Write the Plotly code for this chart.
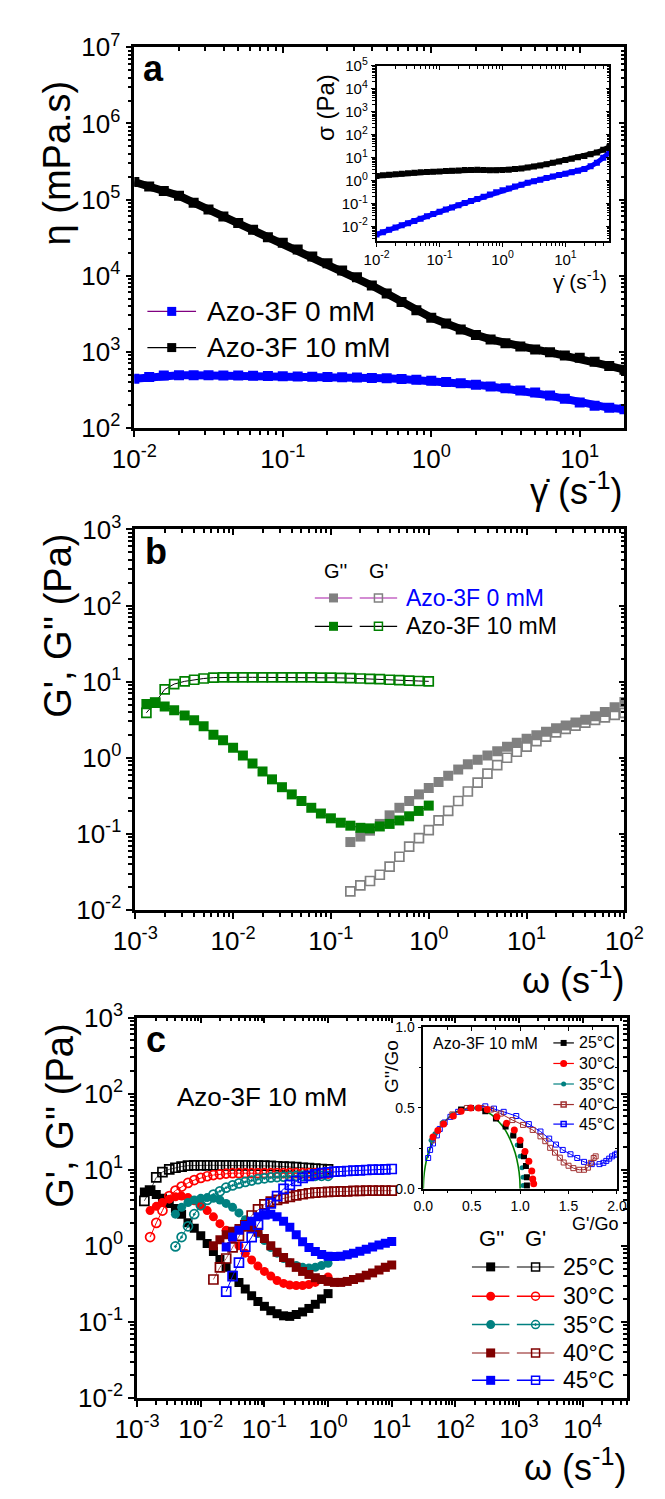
import math
import plotly.graph_objects as go

W, H = 665, 1499
FONT = "Liberation Sans, Arial, Helvetica, sans-serif"

# ---------------- (a) steady-shear viscosity, mPa.s ----------------
shear_rate = [0.01, 0.0126, 0.0158, 0.02, 0.0251, 0.0316, 0.0398, 0.0501, 0.0631, 0.0794,
              0.1, 0.126, 0.158, 0.2, 0.251, 0.316, 0.398, 0.501, 0.631, 0.794,
              1, 1.26, 1.58, 2, 2.51, 3.16, 3.98, 5.01, 6.31, 7.94, 10, 12.6, 15.8, 20]
eta_azo0 = [440, 465, 485, 490, 492, 490, 488, 485, 482, 478,
            475, 472, 470, 466, 462, 457, 452, 446, 438, 428,
            415, 400, 385, 368, 350, 330, 310, 290, 265, 240, 215, 195, 183, 175]
eta_azo10 = [170000, 148000, 129000, 112000, 91000, 74000, 60000, 49000, 40000, 32000,
             27000, 22000, 17800, 14500, 11700, 9500, 7400, 5800, 4500, 3500,
             2800, 2350, 1950, 1660, 1450, 1290, 1170, 1070, 980, 890, 830, 740, 650, 580]

# ---------------- (a) inset: shear stress, Pa ----------------
shear_rate_inset = [0.01, 0.0126, 0.0158, 0.02, 0.0251, 0.0316, 0.0398, 0.0501, 0.0631, 0.0794,
                    0.1, 0.126, 0.158, 0.2, 0.251, 0.316, 0.398, 0.501, 0.631, 0.794,
                    1, 1.26, 1.58, 2, 2.51, 3.16, 3.98, 5.01, 6.31, 7.94,
                    10, 12.6, 15.8, 20, 25.1, 31.6, 39.8, 50.1]
sigma_azo0 = [0.0045, 0.0057, 0.0072, 0.009, 0.0113, 0.014, 0.0175, 0.022, 0.028, 0.035,
              0.044, 0.055, 0.068, 0.085, 0.105, 0.13, 0.16, 0.2, 0.25, 0.31,
              0.38, 0.46, 0.56, 0.67, 0.8, 0.95, 1.1, 1.3, 1.5, 1.75,
              2.0, 2.3, 2.7, 3.2, 4.2, 6, 10, 17]
sigma_azo10 = [1.6, 1.7, 1.8, 1.9, 2.0, 2.1, 2.2, 2.3, 2.4, 2.45,
               2.5, 2.6, 2.7, 2.8, 2.9, 2.9, 2.95, 2.9, 2.85, 2.85,
               2.9, 3.0, 3.2, 3.4, 3.7, 4.1, 4.6, 5.2, 6.0, 6.9,
               7.9, 9.0, 10.5, 12, 14, 17, 22, 30]

# ---------------- (b) dynamic moduli, Pa ----------------
omega_azo0 = [0.158, 0.2, 0.251, 0.316, 0.398, 0.501, 0.631, 0.794, 1, 1.26, 1.58, 2, 2.51, 3.16,
              3.98, 5.01, 6.31, 7.94, 10, 12.6, 15.8, 20, 25.1, 31.6, 39.8, 50.1, 63.1, 79.4, 100]
G2_azo0 = [0.078, 0.092, 0.11, 0.135, 0.175, 0.22, 0.27, 0.33, 0.40, 0.48, 0.58, 0.7, 0.82, 0.94,
           1.07, 1.22, 1.4, 1.58, 1.78, 1.98, 2.2, 2.45, 2.65, 2.9, 3.15, 3.5, 4.0, 4.6, 5.4]
G1_azo0 = [0.0175, 0.021, 0.024, 0.029, 0.037, 0.05, 0.068, 0.088, 0.112, 0.15, 0.2, 0.27, 0.36, 0.47,
           0.62, 0.8, 1.0, 1.2, 1.4, 1.65, 1.9, 2.15, 2.4, 2.65, 2.9, 3.15, 3.4, 3.65, 3.9]

# 10 mM at 25 degC (also the 25 degC series of panel c)
omega_azo10 = [0.0013, 0.0016, 0.002, 0.0025, 0.0032, 0.004, 0.005, 0.0063, 0.0079, 0.01,
               0.0126, 0.0158, 0.02, 0.025, 0.0316, 0.0398, 0.05, 0.063, 0.079, 0.1,
               0.126, 0.158, 0.2, 0.25, 0.316, 0.398, 0.5, 0.63, 0.79, 1.0]
G2_azo10 = [5.1, 5.3, 4.7, 4.2, 3.6, 3.1, 2.6, 2.0, 1.7, 1.35,
            1.07, 0.84, 0.66, 0.52, 0.41, 0.33, 0.27, 0.22, 0.185, 0.16,
            0.14, 0.128, 0.12, 0.118, 0.125, 0.135, 0.15, 0.17, 0.2, 0.235]
G1_azo10 = [3.9, 5.3, 7.9, 9.3, 10.1, 10.6, 11.0, 11.3, 11.4, 11.4,
            11.4, 11.4, 11.4, 11.4, 11.4, 11.4, 11.4, 11.4, 11.3, 11.3,
            11.2, 11.1, 11.0, 10.9, 10.8, 10.6, 10.5, 10.3, 10.2, 10.1]

# ---------------- (c) temperature series, 10 mM ----------------
omega_30 = [0.0016, 0.002, 0.0025, 0.0032, 0.004, 0.005, 0.0063, 0.0079, 0.01, 0.0126,
            0.0158, 0.02, 0.025, 0.0316, 0.0398, 0.05, 0.063, 0.079, 0.1, 0.126,
            0.158, 0.2, 0.25, 0.316, 0.398, 0.5, 0.63, 0.79, 1.0]
G2_30 = [2.9, 3.3, 3.7, 4.1, 4.4, 4.5, 4.3, 3.9, 3.4, 2.9,
         2.4, 1.95, 1.6, 1.25, 1.0, 0.8, 0.65, 0.54, 0.46, 0.4,
         0.35, 0.32, 0.305, 0.3, 0.3, 0.31, 0.33, 0.36, 0.39]
G1_30 = [1.3, 2.0, 2.9, 4.5, 5.3, 6.0, 6.7, 7.3, 7.8, 8.2,
         8.5, 8.7, 8.9, 9.0, 9.0, 9.0, 9.0, 9.0, 9.0, 9.0,
         9.0, 9.0, 9.0, 9.0, 9.0, 9.0, 9.0, 8.9, 8.9]

omega_35 = [0.004, 0.005, 0.0063, 0.0079, 0.01, 0.0126, 0.0158, 0.02, 0.025, 0.0316,
            0.0398, 0.05, 0.063, 0.079, 0.1, 0.126, 0.158, 0.2, 0.25, 0.316,
            0.398, 0.5, 0.63, 0.79, 1.0]
G2_35 = [2.6, 3.2, 3.7, 4.0, 4.2, 4.3, 4.2, 4.0, 3.6, 3.2,
         2.7, 2.2, 1.8, 1.45, 1.17, 0.95, 0.8, 0.68, 0.6, 0.55,
         0.52, 0.51, 0.52, 0.55, 0.59]
G1_35 = [0.98, 1.3, 1.8, 2.6, 3.4, 4.0, 4.7, 5.2, 5.8, 6.2,
         6.6, 6.9, 7.2, 7.5, 7.7, 7.9, 8.0, 8.1, 8.2, 8.3,
         8.3, 8.3, 8.3, 8.3, 8.3]

omega_40 = [0.0158, 0.02, 0.0251, 0.0316, 0.0398, 0.0501, 0.0631, 0.0794, 0.1, 0.126,
            0.158, 0.2, 0.251, 0.316, 0.398, 0.501, 0.631, 0.794, 1, 1.26,
            1.58, 2, 2.51, 3.16, 3.98, 5.01, 6.31, 7.94, 10]
G2_40 = [1.0, 1.2, 1.4, 1.55, 1.68, 1.75, 1.7, 1.5, 1.25, 1.0,
         0.82, 0.7, 0.6, 0.52, 0.46, 0.42, 0.38, 0.36, 0.34, 0.33,
         0.33, 0.34, 0.36, 0.38, 0.41, 0.44, 0.48, 0.52, 0.56]
G1_40 = [0.36, 0.52, 0.68, 0.95, 1.35, 1.85, 2.5, 3.0, 3.5, 3.8,
         4.0, 4.2, 4.4, 4.6, 4.75, 4.9, 5.0, 5.05, 5.1, 5.15,
         5.2, 5.2, 5.25, 5.25, 5.3, 5.3, 5.3, 5.3, 5.3]

omega_45 = [0.0251, 0.0316, 0.0398, 0.0501, 0.0631, 0.0794, 0.1, 0.126, 0.158, 0.2,
            0.251, 0.316, 0.398, 0.501, 0.631, 0.794, 1, 1.26, 1.58, 2,
            2.51, 3.16, 3.98, 5.01, 6.31, 7.94, 10]
G2_45 = [0.96, 1.3, 1.6, 1.85, 2.1, 2.4, 2.55, 2.6, 2.4, 2.1,
         1.75, 1.4, 1.13, 0.95, 0.84, 0.77, 0.73, 0.72, 0.73, 0.76,
         0.8, 0.85, 0.9, 0.96, 1.02, 1.08, 1.14]
G1_45 = [0.25, 0.4, 0.6, 0.97, 1.3, 1.9, 2.6, 3.6, 4.5, 5.6,
         6.3, 7.1, 7.8, 8.3, 8.7, 9.0, 9.2, 9.4, 9.5, 9.6,
         9.7, 9.8, 9.9, 10.0, 10.0, 10.1, 10.2]

# ---------------- (c) inset: Cole-Cole plot ----------------
maxwell_x = [0, 0.005, 0.02, 0.05, 0.1, 0.15, 0.2, 0.3, 0.4, 0.5, 0.6, 0.7, 0.8, 0.85, 0.9, 0.95, 0.98, 0.995, 1.0]
maxwell_y = [0, 0.07, 0.14, 0.22, 0.3, 0.36, 0.4, 0.46, 0.49, 0.5, 0.49, 0.46, 0.4, 0.36, 0.3, 0.22, 0.14, 0.07, 0]
cc25_x = [0.39, 0.49, 0.64, 0.75, 0.85, 0.93, 1.0, 1.04, 1.06, 1.07, 1.07]
cc25_y = [0.49, 0.5, 0.48, 0.435, 0.385, 0.33, 0.27, 0.2, 0.14, 0.07, 0.02]
cc30_x = [0.1, 0.15, 0.21, 0.31, 0.39, 0.49, 0.57, 0.66, 0.76, 0.86, 0.94, 1.0, 1.05, 1.09, 1.12, 1.13, 1.14]
cc30_y = [0.32, 0.36, 0.40, 0.45, 0.48, 0.5, 0.5, 0.49, 0.445, 0.405, 0.364, 0.3, 0.23, 0.17, 0.11, 0.06, 0.03]
cc35_x = [0.08, 0.12, 0.2, 0.3, 0.4, 0.55, 0.65, 0.75, 0.85, 0.92, 0.97, 1.0, 1.02, 1.03, 1.03]
cc35_y = [0.3, 0.34, 0.41, 0.46, 0.49, 0.5, 0.49, 0.45, 0.4, 0.33, 0.27, 0.2, 0.13, 0.07, 0.02]
cc40_x = [0.1, 0.2, 0.3, 0.45, 0.6, 0.7, 0.8, 0.92, 1.03, 1.13, 1.21, 1.26, 1.31, 1.36, 1.41, 1.45,
          1.5, 1.55, 1.61, 1.66, 1.7, 1.73, 1.76, 1.78]
cc40_y = [0.3, 0.4, 0.46, 0.5, 0.5, 0.49, 0.465, 0.425, 0.395, 0.364, 0.324, 0.294, 0.253, 0.223, 0.192, 0.162,
          0.142, 0.127, 0.117, 0.117, 0.13, 0.16, 0.19, 0.2]
cc45_x = [0.05, 0.07, 0.1, 0.14, 0.17, 0.22, 0.28, 0.36, 0.49, 0.64, 0.73, 0.83, 0.96, 1.09, 1.21, 1.3,
          1.37, 1.44, 1.52, 1.59, 1.66, 1.74, 1.82, 1.86, 1.89, 1.92, 1.95, 1.98, 2.0]
cc45_y = [0.19, 0.24, 0.28, 0.33, 0.37, 0.41, 0.445, 0.476, 0.5, 0.51, 0.496, 0.476, 0.45, 0.4, 0.354, 0.31,
          0.273, 0.24, 0.213, 0.19, 0.166, 0.152, 0.152, 0.16, 0.172, 0.186, 0.2, 0.21, 0.217]

temps = ["25°C", "30°C", "35°C", "40°C", "45°C"]

# ---------------- layout geometry (pixels) ----------------
BOX = {
    1: dict(x=(119, 643), y=(30, 419)),     # a
    2: dict(x=(378, 627), y=(49, 228)),     # a inset
    3: dict(x=(120, 643), y=(523, 912)),    # b
    4: dict(x=(122, 646), y=(1022, 1411)),  # c
    5: dict(x=(428, 635), y=(1032, 1197)),  # c inset
}


def fx(px):
    return px / W


def fy(py):
    return 1 - py / H


def log_spec(lo, hi):
    vals, text, minor = [], [], []
    for k in range(math.floor(lo), math.ceil(hi) + 1):
        if lo - 1e-9 <= k <= hi + 1e-9:
            vals.append(10.0 ** k)
            text.append(f"10<sup>{k}</sup>")
        for m in range(2, 10):
            v = m * 10.0 ** k
            if lo < math.log10(v) < hi:
                minor.append(v)
    return dict(type="log", range=[lo, hi], vals=vals, text=text, minor=minor)


def lin_spec(lo, hi, step, mstep):
    n = int(round((hi - lo) / step))
    vals = [lo + i * step for i in range(n + 1)]
    nm = int(round((hi - lo) / mstep))
    minor = [lo + i * mstep for i in range(nm + 1)]
    return dict(type="linear", range=[lo, hi], vals=vals,
                text=[f"{v:.1f}" for v in vals], minor=minor)


MAIN = dict(lw=2.5, tl=6, tw=2, mtl=4, mtw=1.5, fs=26)
INSET = dict(lw=1.5, tl=4, tw=1.3, mtl=3, mtw=1, fs=15)
INSET_C = dict(lw=1.5, tl=4, tw=1.2, mtl=2.5, mtw=1, fs=14)


def axis(spec, st, side, ticks, labels):
    return dict(
        type=spec["type"], range=spec["range"], autorange=False,
        tickmode="array", tickvals=spec["vals"], ticktext=spec["text"],
        ticks=ticks, ticklen=st["tl"], tickwidth=st["tw"], tickcolor="black",
        showline=True, linewidth=st["lw"], linecolor="black", mirror=False,
        showgrid=False, zeroline=False, side=side, showticklabels=labels,
        tickfont=dict(family=FONT, size=st["fs"], color="black"),
        minor=dict(tickmode="array", tickvals=spec["minor"], ticks=ticks,
                   ticklen=st["mtl"], tickwidth=st["mtw"], tickcolor="black", showgrid=False),
        fixedrange=True,
    )


layout_axes = {}
frame_traces = []


def add_frame(n, xspec, yspec, st):
    bx, by = BOX[n]["x"], BOX[n]["y"]
    xn = "x" if n == 1 else f"x{n}"
    yn = "y" if n == 1 else f"y{n}"
    xa = axis(xspec, st, "bottom", "outside", True)
    xa.update(domain=[fx(bx[0]), fx(bx[1])], anchor=yn)
    ya = axis(yspec, st, "left", "outside", True)
    ya.update(domain=[fy(by[1]), fy(by[0])], anchor=xn)
    layout_axes["xaxis" if n == 1 else f"xaxis{n}"] = xa
    layout_axes["yaxis" if n == 1 else f"yaxis{n}"] = ya
    # opposite sides: mirrored ticks pointing inward
    m = n + 10
    xt = axis(xspec, st, "top", "inside", False)
    xt.update(overlaying=xn, anchor=yn)
    yr = axis(yspec, st, "right", "inside", False)
    yr.update(overlaying=yn, anchor=xn)
    layout_axes[f"xaxis{m}"] = xt
    layout_axes[f"yaxis{m}"] = yr
    frame_traces.append(go.Scatter(x=[], y=[], xaxis=f"x{m}", yaxis=f"y{m}",
                                   showlegend=False, hoverinfo="skip"))


add_frame(1, log_spec(-2, math.log10(20)), log_spec(2, 7), MAIN)
add_frame(2, log_spec(-2, math.log10(50)), log_spec(-2.63, 5), INSET)
add_frame(3, log_spec(-3, 2), log_spec(-2, 3), MAIN)
add_frame(4, log_spec(-3, 4.7), log_spec(-2, 3), MAIN)
add_frame(5, lin_spec(0, 2, 0.5, 0.25), lin_spec(0, 1, 0.5, 0.25), INSET_C)


def tr(x, y, n, **kw):
    xn = "x" if n == 1 else f"x{n}"
    yn = "y" if n == 1 else f"y{n}"
    return go.Scatter(x=x, y=y, xaxis=xn, yaxis=yn, showlegend=False, hoverinfo="skip", **kw)


traces = []

# (a)
traces.append(tr(shear_rate, eta_azo0, 1, mode="lines+markers",
                 line=dict(color="#0000FF", width=8), marker=dict(symbol="square", size=10, color="#0000FF")))
traces.append(tr(shear_rate, eta_azo10, 1, mode="lines+markers",
                 line=dict(color="black", width=8), marker=dict(symbol="square", size=10, color="black")))
# (a) inset
traces.append(tr(shear_rate_inset, sigma_azo0, 2, mode="lines+markers",
                 line=dict(color="#0000FF", width=5), marker=dict(symbol="square", size=6, color="#0000FF")))
traces.append(tr(shear_rate_inset, sigma_azo10, 2, mode="lines+markers",
                 line=dict(color="black", width=5), marker=dict(symbol="square", size=6, color="black")))

# (b)
GREY, GREEN, PINK = "#808080", "#008000", "#C466C4"
traces.append(tr(omega_azo0, G2_azo0, 3, mode="markers",
                 marker=dict(symbol="square", size=10, color=GREY)))
traces.append(tr(omega_azo0, G1_azo0, 3, mode="markers",
                 marker=dict(symbol="square-open", size=9, color=GREY, line=dict(width=1.7, color=GREY))))
traces.append(tr(omega_azo10, G1_azo10, 3, mode="lines+markers", line=dict(color="black", width=1),
                 marker=dict(symbol="square-open", size=9, color=GREEN, line=dict(width=1.7, color=GREEN))))
traces.append(tr(omega_azo10, G2_azo10, 3, mode="lines+markers", line=dict(color="black", width=1),
                 marker=dict(symbol="square", size=10, color=GREEN)))

# (c)
C_SERIES = [
    (omega_azo10, G2_azo10, G1_azo10, "#000000", "#555555", "square", "square-open"),
    (omega_30, G2_30, G1_30, "#FF0000", "#FF0000", "circle", "circle-open"),
    (omega_35, G2_35, G1_35, "#008080", "#008080", "circle", "circle-open-dot"),
    (omega_40, G2_40, G1_40, "#800000", "#B06060", "square", "square-open"),
    (omega_45, G2_45, G1_45, "#0000FF", "#0000FF", "square", "square-open"),
]
for om, g2, g1, col, lcol, sfill, sopen in C_SERIES:
    traces.append(tr(om, g1, 4, mode="lines+markers", line=dict(color=lcol, width=1),
                     marker=dict(symbol=sopen, size=9, color=col, line=dict(width=1.7, color=col))))
    traces.append(tr(om, g2, 4, mode="lines+markers", line=dict(color=lcol, width=1),
                     marker=dict(symbol=sfill, size=9, color=col)))

# (c) inset
traces.append(tr(maxwell_x, maxwell_y, 5, mode="lines", line=dict(color="#008000", width=1.6, shape="spline")))
traces.append(tr(cc45_x, cc45_y, 5, mode="lines+markers", line=dict(color="#0000FF", width=1),
                 marker=dict(symbol="square-open", size=5, color="#0000FF", line=dict(width=1, color="#0000FF"))))
traces.append(tr(cc40_x, cc40_y, 5, mode="lines+markers", line=dict(color="#A03030", width=1),
                 marker=dict(symbol="square-open", size=5, color="#A03030", line=dict(width=1, color="#A03030"))))
traces.append(tr(cc35_x, cc35_y, 5, mode="markers", marker=dict(symbol="circle", size=5, color="#008080")))
traces.append(tr(cc25_x, cc25_y, 5, mode="markers", marker=dict(symbol="square", size=6, color="black")))
traces.append(tr(cc30_x, cc30_y, 5, mode="markers", marker=dict(symbol="circle", size=7, color="#FF0000")))

# ---------------- legend glyphs on a full-page pixel axis ----------------
layout_axes["xaxis20"] = dict(domain=[0, 1], range=[0, W], visible=False, fixedrange=True, anchor="y20")
layout_axes["yaxis20"] = dict(domain=[0, 1], range=[H, 0], visible=False, fixedrange=True, anchor="x20")


def glyph(x0, x1, y, lcol, lw, sym, size, mcol):
    traces.append(go.Scatter(x=[x0, x1], y=[y, y], xaxis="x20", yaxis="y20", mode="lines",
                             line=dict(color=lcol, width=lw), showlegend=False, hoverinfo="skip"))
    mk = dict(symbol=sym, size=size, color=mcol)
    if "open" in sym:
        mk["line"] = dict(width=1.5, color=mcol)
    traces.append(go.Scatter(x=[(x0 + x1) / 2], y=[y], xaxis="x20", yaxis="y20", mode="markers",
                             marker=mk, showlegend=False, hoverinfo="skip"))


# (a) legend
glyph(133, 185, 300, "#800080", 1.2, "square", 9, "#0000FF")
glyph(133, 185, 337, "black", 1.2, "square", 9, "black")
# (b) legend
glyph(312, 352, 593, PINK, 1.5, "square", 9, GREY)
glyph(360, 400, 593, PINK, 1.5, "square-open", 8, GREY)
glyph(312, 352, 622, "black", 1.2, "square", 9, GREEN)
glyph(360, 400, 622, "black", 1.2, "square-open", 8, GREEN)
# (c) legend
c_rows = [1277, 1307, 1336, 1365, 1393]
for (om, g2, g1, col, lcol, sfill, sopen), yy in zip(C_SERIES, c_rows):
    glyph(480, 520, yy, lcol, 1.5, sfill, 9, col)
    glyph(528, 568, yy, lcol, 1.5, sopen, 8, col)
# (c) inset legend
ci_rows = [1048, 1069, 1090, 1111, 1131]
ci_style = [("black", "square", 6), ("#FF0000", "circle", 7), ("#008080", "circle", 5),
            ("#A03030", "square-open", 5), ("#0000FF", "square-open", 5)]
for (col, sym, sz), yy in zip(ci_style, ci_rows):
    glyph(567, 589, yy, col, 1.2, sym, sz, col)

# ---------------- text ----------------
ann = []


def text(s, x, y, size, xanchor="center", yanchor="middle", color="black", angle=0, bold=False):
    if bold:
        s = f"<b>{s}</b>"
    ann.append(dict(text=s, x=fx(x), y=fy(y), xref="paper", yref="paper", showarrow=False,
                    xanchor=xanchor, yanchor=yanchor, textangle=angle,
                    font=dict(family=FONT, size=size, color=color)))


# panel letters
text("a", 140, 52, 36, bold=True)
text("b", 142, 545, 36, bold=True)
text("c", 142, 1045, 36, bold=True)

# axis titles
text("η (mPa.s)", 36, 148, 38, angle=-90)
text("G', G'' (Pa)", 38, 622, 38, angle=-90)
text("G', G'' (Pa)", 40, 1122, 38, angle=-90)
text("γ̇ (s<sup>-1</sup>)", 643, 482, 36, xanchor="right")
text("ω (s<sup>-1</sup>)", 646, 982, 36, xanchor="right")
text("ω (s<sup>-1</sup>)", 648, 1480, 36, xanchor="right")

# inset (a) titles
text("σ (Pa)", 324, 92, 24, angle=-90)
text("γ̇ (s<sup>-1</sup>)", 627, 268, 21, xanchor="right")

# (a) legend text
text("Azo-3F 0 mM", 195, 300, 28, xanchor="left")
text("Azo-3F 10 mM", 195, 337, 28, xanchor="left")

# (b) legend text
text("G''", 334, 565, 20)
text("G'", 380, 565, 20)
text("Azo-3F 0 mM", 407, 593, 23, xanchor="left", color="#0000FF")
text("Azo-3F 10 mM", 407, 622, 23, xanchor="left")

# (c) labels and legend
text("Azo-3F 10 mM", 256, 1103, 26)
text("G''", 501, 1248, 22)
text("G'", 548, 1248, 22)
for t, yy in zip(temps, c_rows):
    text(t, 575, yy, 23, xanchor="left")

# (c) inset text
text("Azo-3F 10 mM", 436, 1049, 16, xanchor="left")
for t, yy in zip(temps, ci_rows):
    text(t, 592, yy, 16, xanchor="left")
text("G''/Go", 394, 1072, 19, angle=-90)
text("G'/Go", 638, 1233, 18, xanchor="right")

fig = go.Figure(data=frame_traces + traces)
fig.update_layout(
    width=W, height=H, margin=dict(l=0, r=0, t=0, b=0),
    paper_bgcolor="white", plot_bgcolor="rgba(0,0,0,0)",
    showlegend=False, annotations=ann, font=dict(family=FONT, color="black"),
    **layout_axes,
)
fig.write_html("out.html")
